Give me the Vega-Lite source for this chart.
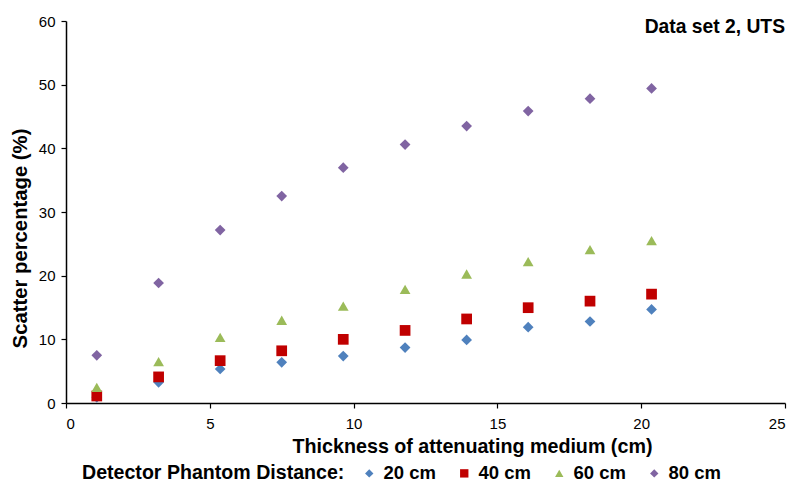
{
  "$schema": "https://vega.github.io/schema/vega-lite/v6.json",
  "width": 719,
  "height": 382,
  "autosize": {"type": "none"},
  "padding": {"left": 66, "top": 21, "right": 10, "bottom": 80},
  "background": "white",
  "config": {
    "font": "Liberation Sans",
    "view": {"stroke": null},
    "axis": {
      "grid": false,
      "domainColor": "#000000",
      "domainWidth": 1.5,
      "tickColor": "#000000",
      "tickWidth": 1.2,
      "tickSize": 5,
      "labelColor": "#000000",
      "labelFontSize": 15,
      "labelFont": "Liberation Sans",
      "titleColor": "#000000",
      "titleFont": "Liberation Sans",
      "titleFontWeight": "bold"
    }
  },
  "datasets": {
    "scatter": [
      {"thickness": 1.07, "pct": 0.9, "distance": "20 cm"},
      {"thickness": 3.22, "pct": 3.25, "distance": "20 cm"},
      {"thickness": 5.36, "pct": 5.34, "distance": "20 cm"},
      {"thickness": 7.5, "pct": 6.39, "distance": "20 cm"},
      {"thickness": 9.64, "pct": 7.38, "distance": "20 cm"},
      {"thickness": 11.79, "pct": 8.7, "distance": "20 cm"},
      {"thickness": 13.93, "pct": 9.9, "distance": "20 cm"},
      {"thickness": 16.07, "pct": 11.9, "distance": "20 cm"},
      {"thickness": 18.22, "pct": 12.8, "distance": "20 cm"},
      {"thickness": 20.36, "pct": 14.7, "distance": "20 cm"},
      {"thickness": 1.07, "pct": 1.1, "distance": "40 cm"},
      {"thickness": 3.22, "pct": 4.1, "distance": "40 cm"},
      {"thickness": 5.36, "pct": 6.65, "distance": "40 cm"},
      {"thickness": 7.5, "pct": 8.2, "distance": "40 cm"},
      {"thickness": 9.64, "pct": 10.0, "distance": "40 cm"},
      {"thickness": 11.79, "pct": 11.4, "distance": "40 cm"},
      {"thickness": 13.93, "pct": 13.2, "distance": "40 cm"},
      {"thickness": 16.07, "pct": 14.97, "distance": "40 cm"},
      {"thickness": 18.22, "pct": 16.0, "distance": "40 cm"},
      {"thickness": 20.36, "pct": 17.1, "distance": "40 cm"},
      {"thickness": 1.07, "pct": 2.46, "distance": "60 cm"},
      {"thickness": 3.22, "pct": 6.49, "distance": "60 cm"},
      {"thickness": 5.36, "pct": 10.3, "distance": "60 cm"},
      {"thickness": 7.5, "pct": 13.0, "distance": "60 cm"},
      {"thickness": 9.64, "pct": 15.2, "distance": "60 cm"},
      {"thickness": 11.79, "pct": 17.85, "distance": "60 cm"},
      {"thickness": 13.93, "pct": 20.26, "distance": "60 cm"},
      {"thickness": 16.07, "pct": 22.2, "distance": "60 cm"},
      {"thickness": 18.22, "pct": 24.1, "distance": "60 cm"},
      {"thickness": 20.36, "pct": 25.5, "distance": "60 cm"},
      {"thickness": 1.07, "pct": 7.49, "distance": "80 cm"},
      {"thickness": 3.22, "pct": 18.85, "distance": "80 cm"},
      {"thickness": 5.36, "pct": 27.17, "distance": "80 cm"},
      {"thickness": 7.5, "pct": 32.5, "distance": "80 cm"},
      {"thickness": 9.64, "pct": 36.96, "distance": "80 cm"},
      {"thickness": 11.79, "pct": 40.6, "distance": "80 cm"},
      {"thickness": 13.93, "pct": 43.5, "distance": "80 cm"},
      {"thickness": 16.07, "pct": 45.86, "distance": "80 cm"},
      {"thickness": 18.22, "pct": 47.8, "distance": "80 cm"},
      {"thickness": 20.36, "pct": 49.4, "distance": "80 cm"}
    ]
  },
  "layer": [
    {
      "data": {"name": "scatter"},
      "mark": {"type": "point", "filled": true, "opacity": 1, "size": 115},
      "encoding": {
        "x": {
          "field": "thickness",
          "type": "quantitative",
          "scale": {"domain": [0, 25], "nice": false, "zero": true},
          "axis": {
            "values": [0, 5, 10, 15, 20, 25],
            "title": "Thickness of attenuating medium (cm)",
            "titleFontSize": 19.7,
            "titleX": 406,
            "titleY": 43,
            "titleBaseline": "middle",
            "labelPadding": 8
          }
        },
        "y": {
          "field": "pct",
          "type": "quantitative",
          "scale": {"domain": [0, 60], "nice": false},
          "axis": {
            "values": [0, 10, 20, 30, 40, 50, 60],
            "title": "Scatter percentage (%)",
            "titleFontSize": 20.3,
            "titleX": -46,
            "titleY": 217,
            "titleBaseline": "middle",
            "labelPadding": 6
          }
        },
        "color": {
          "field": "distance",
          "type": "nominal",
          "scale": {
            "domain": ["20 cm", "40 cm", "60 cm", "80 cm"],
            "range": ["#4F81BD", "#C00000", "#9BBB59", "#8064A2"]
          },
          "legend": {
            "title": "Detector Phantom Distance:",
            "orient": "none",
            "direction": "horizontal",
            "titleOrient": "left",
            "legendX": 16,
            "legendY": 443,
            "titleFontSize": 19.6,
            "titleFontWeight": "bold",
            "titleColor": "#000000",
            "titleFont": "Liberation Sans",
            "titleLimit": 500,
            "titlePadding": 15,
            "titleBaseline": "middle",
            "labelFontSize": 18.5,
            "labelFontWeight": "bold",
            "labelColor": "#000000",
            "labelFont": "Liberation Sans",
            "labelOffset": 5,
            "columnPadding": 19,
            "symbolSize": 70,
            "symbolStrokeWidth": 0
          }
        },
        "shape": {
          "field": "distance",
          "type": "nominal",
          "scale": {
            "domain": ["20 cm", "40 cm", "60 cm", "80 cm"],
            "range": ["diamond", "square", "triangle-up", "diamond"]
          },
          "legend": null
        }
      }
    },
    {
      "data": {"values": [{"label": "Data set 2, UTS"}]},
      "mark": {
        "type": "text",
        "align": "right",
        "baseline": "top",
        "font": "Liberation Sans",
        "fontSize": 19.3,
        "fontWeight": "bold",
        "color": "#000000",
        "dy": -3
      },
      "encoding": {
        "x": {"datum": 25},
        "y": {"datum": 60},
        "text": {"field": "label", "type": "nominal"}
      }
    }
  ]
}
